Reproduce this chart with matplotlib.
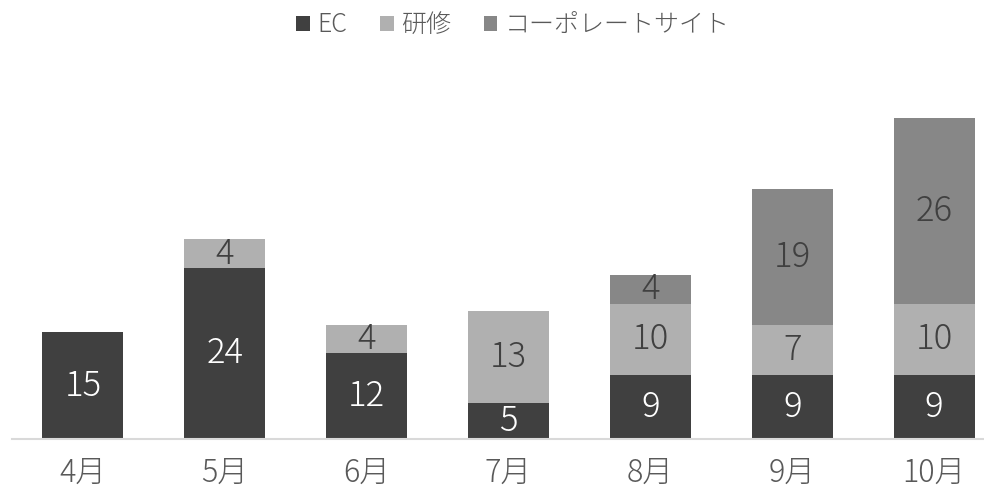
import matplotlib
matplotlib.use("Agg")
import matplotlib.pyplot as plt
from matplotlib.patches import Patch
import numpy as np

plt.rcParams['font.family'] = ['Noto Sans CJK JP', 'DejaVu Sans']

months = ["4月", "5月", "6月", "7月", "8月", "9月", "10月"]
series_names = ["EC", "研修", "コーポレートサイト"]
ec = [15, 24, 12, 5, 9, 9, 9]
kenshu = [0, 4, 4, 13, 10, 7, 10]
corporate = [0, 0, 0, 0, 4, 19, 26]

colors = ["#404040", "#b0b0b0", "#878787"]
label_colors = ["white", "#404040", "#404040"]

W, H = 984, 491
fig = plt.figure(figsize=(W / 100, H / 100), dpi=100)
left_px, right_px = 12, 1005
bottom_px, top_px = 439, 82.5
ax = fig.add_axes([left_px / W, (H - bottom_px) / H,
                   (right_px - left_px) / W, (bottom_px - top_px) / H])

x = np.arange(len(months))
width = 0.57
bottoms = np.zeros(len(months))
for vals, col, lc in zip([ec, kenshu, corporate], colors, label_colors):
    vals = np.array(vals, dtype=float)
    ax.bar(x, vals, width, bottom=bottoms, color=col, edgecolor="none", zorder=2)
    for xi, v, b in zip(x, vals, bottoms):
        if v > 0:
            ax.text(xi, b + v / 2, f"{int(v)}", ha="center", va="center",
                    fontsize=25, fontweight="light", color=lc, zorder=3)
    bottoms += vals

ax.set_xlim(-0.5, len(months) - 0.5)
ax.set_ylim(0, 50)
ax.set_xticks(x)
ax.set_xticklabels(months, fontsize=22, fontweight="light", color="#595959")
ax.tick_params(axis="x", length=0, pad=13)
ax.set_yticks([])
for s in ["top", "right", "left"]:
    ax.spines[s].set_visible(False)
ax.spines["bottom"].set_color("#d9d9d9")
ax.spines["bottom"].set_linewidth(1.5)

handles = [Patch(facecolor=c, edgecolor="none") for c in colors]
fig.legend(handles, series_names, loc="center", bbox_to_anchor=(513 / W, 1 - 25 / H),
           ncol=3, frameon=False, prop={"size": 18, "weight": "light"}, labelcolor="#595959",
           handlelength=0.55, handleheight=0.55, handletextpad=0.3, columnspacing=1.3)

fig.savefig("out.png", dpi=100)
